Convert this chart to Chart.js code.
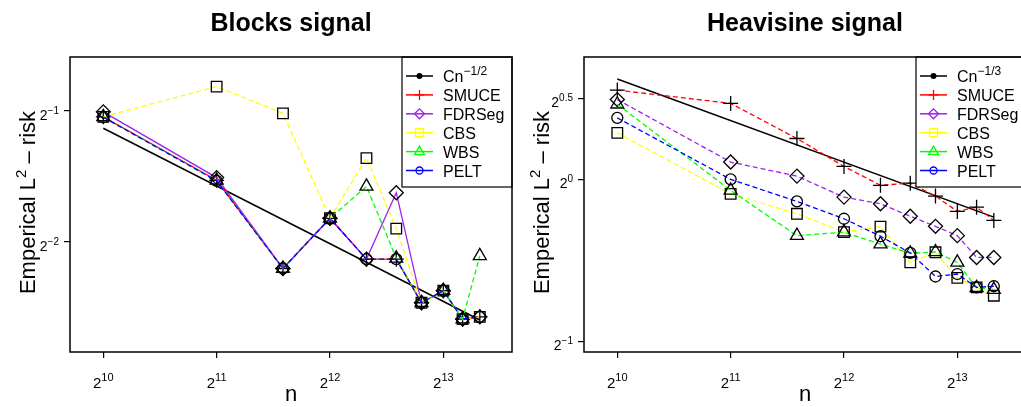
<!DOCTYPE html>
<html>
<head>
<meta charset="utf-8">
<script src="https://cdn.jsdelivr.net/npm/chart.js@4.4.0/dist/chart.umd.min.js"></script>
<style>
  html, body { margin: 0; padding: 0; background: #fff; overflow: hidden; }
  body { width: 1021px; height: 407px; position: relative; }
  canvas { position: absolute; top: 0; }
  #blocks { left: 0; }
  #heavisine { left: 514px; }
</style>
</head>
<body>
<canvas id="blocks" width="520" height="407"></canvas>
<canvas id="heavisine" width="520" height="407"></canvas>
<script>
// sample sizes n
const nValues = [1024, 2048, 3072, 4096, 5120, 6144, 7168, 8192, 9216, 10240];
const xTickExps = ["10", "11", "12", "13"];

// Blocks signal, empirical L2 risk
const blocksSmuce  = [0.484, 0.346, 0.217, 0.283, 0.228, 0.228, 0.181, 0.193, 0.166, 0.168];
const blocksFdrseg = [0.497, 0.351, 0.217, 0.283, 0.228, 0.324, 0.181, 0.193, 0.166, 0.168];
const blocksCbs    = [0.484, 0.568, 0.493, 0.283, 0.389, 0.268, 0.181, 0.193, 0.166, 0.168];
const blocksWbs    = [0.484, 0.346, 0.217, 0.283, 0.335, 0.229, 0.181, 0.193, 0.166, 0.232];
const blocksPelt   = [0.483, 0.345, 0.217, 0.283, 0.228, 0.228, 0.181, 0.193, 0.166, 0.168];
const blocksRefN   = [1024, 10240];
const blocksRef    = [0.4557, 0.1652];
const blocksYTickExps = ["-1", "-2"];

// Heavisine signal, empirical L2 risk
const heaviSmuce  = [1.465, 1.384, 1.191, 1.057, 0.975, 0.984, 0.931, 0.872, 0.888, 0.839];
const heaviFdrseg = [1.407, 1.077, 1.014, 0.927, 0.901, 0.854, 0.818, 0.786, 0.716, 0.716];
const heaviCbs    = [1.220, 0.940, 0.863, 0.798, 0.817, 0.701, 0.732, 0.656, 0.630, 0.608];
const heaviWbs    = [1.379, 0.954, 0.786, 0.798, 0.758, 0.729, 0.733, 0.701, 0.629, 0.624];
const heaviPelt   = [1.301, 1.000, 0.910, 0.845, 0.784, 0.730, 0.660, 0.667, 0.630, 0.633];
const heaviRefN   = [1024, 10240];
const heaviRef    = [1.536, 0.851];
const heaviYTickExps = ["0.5", "0", "-1"];

const methodNames  = ["SMUCE", "FDRSeg", "CBS", "WBS", "PELT"];
const methodColors = ["#ff0000", "#a020f0", "#ffff00", "#00ff00", "#0000ff"];
const methodShapes = ["cross", "rectRot", "rect", "triangle", "circle"];
const methodRadius = [7.5, 7, 7.5, 7.5, 5.5];

const FONT = '"Liberation Sans", Arial, Helvetica, sans-serif';
const font = (s, bold) => (bold ? "bold " : "") + s + "px " + FONT;
const minus = s => s.replace("-", "\u2212");

// draw text made of pieces [text, size, rise]
function richText(ctx, parts, x, y, align) {
  let w = 0;
  for (const p of parts) { ctx.font = font(p[1]); w += ctx.measureText(p[0]).width; }
  let cx = align === "center" ? x - w / 2 : align === "right" ? x - w : x;
  ctx.textAlign = "left";
  ctx.textBaseline = "alphabetic";
  for (const p of parts) {
    ctx.font = font(p[1]);
    ctx.fillText(p[0], cx, y - (p[2] || 0));
    cx += ctx.measureText(p[0]).width;
  }
}

// small legend glyphs
function legendGlyph(ctx, shape, x, y, color) {
  ctx.save();
  ctx.strokeStyle = color;
  ctx.fillStyle = color;
  ctx.lineWidth = 1.3;
  ctx.beginPath();
  if (shape === "dot") { ctx.arc(x, y, 3, 0, Math.PI * 2); ctx.fill(); }
  else if (shape === "cross") { ctx.moveTo(x - 5, y); ctx.lineTo(x + 5, y); ctx.moveTo(x, y - 5); ctx.lineTo(x, y + 5); ctx.stroke(); }
  else if (shape === "rectRot") { ctx.moveTo(x - 5, y); ctx.lineTo(x, y - 5); ctx.lineTo(x + 5, y); ctx.lineTo(x, y + 5); ctx.closePath(); ctx.stroke(); }
  else if (shape === "rect") { ctx.rect(x - 4, y - 4, 8, 8); ctx.stroke(); }
  else if (shape === "triangle") { ctx.moveTo(x, y - 5.5); ctx.lineTo(x + 5, y + 3); ctx.lineTo(x - 5, y + 3); ctx.closePath(); ctx.stroke(); }
  else if (shape === "circle") { ctx.arc(x, y, 3.5, 0, Math.PI * 2); ctx.stroke(); }
  ctx.restore();
}

function makePanel(id, p) {
  const datasets = [{
    label: "Cn",
    data: p.refN.map((n, i) => ({ x: n, y: p.ref[i] })),
    borderColor: "#000",
    borderWidth: 1.5,
    pointRadius: 0,
    order: 6
  }];
  p.series.forEach((vals, k) => {
    datasets.push({
      label: methodNames[k],
      data: nValues.map((n, i) => ({ x: n, y: vals[i] })),
      borderColor: methodColors[k],
      borderWidth: 1.3,
      borderDash: p.dashes[k],
      pointStyle: methodShapes[k],
      pointRadius: methodRadius[k],
      pointBorderColor: "#000",
      pointBorderWidth: 1.3,
      pointBackgroundColor: "rgba(0,0,0,0)",
      order: 5 - k
    });
  });

  const decor = {
    id: "decor",
    afterDatasetsDraw(chart) {
      const ctx = chart.ctx;
      const a = chart.chartArea;
      const xs = chart.scales.x, ys = chart.scales.y;
      ctx.save();

      // legend in the top right corner
      const lx = a.right - 110, ly = a.top, lw = 110, lh = 130;
      ctx.fillStyle = "#fff";
      ctx.fillRect(lx, ly, lw, lh);
      ctx.strokeStyle = "#000";
      ctx.lineWidth = 1.2;
      ctx.strokeRect(lx, ly, lw, lh);
      const rows = [{ parts: [["Cn", 16], [p.refExp, 12, 7]], color: "#000", shape: "dot" }];
      methodNames.forEach((m, k) => rows.push({ parts: [[m, 16]], color: methodColors[k], shape: methodShapes[k] }));
      rows.forEach((r, i) => {
        const ry = ly + 19 + i * 18.9;
        ctx.strokeStyle = r.color;
        ctx.lineWidth = 1.5;
        ctx.beginPath();
        ctx.moveTo(lx + 4, ry);
        ctx.lineTo(lx + 31, ry);
        ctx.stroke();
        legendGlyph(ctx, r.shape, lx + 17.5, ry, r.color);
        ctx.fillStyle = "#000";
        richText(ctx, r.parts, lx + 41, ry + 6, "left");
      });

      // plot frame
      ctx.strokeStyle = "#000";
      ctx.lineWidth = 1.5;
      ctx.strokeRect(a.left, a.top, a.right - a.left, a.bottom - a.top);

      // tick labels
      ctx.fillStyle = "#000";
      xTickExps.forEach(e => {
        const px = xs.getPixelForValue(Math.pow(2, +e));
        richText(ctx, [["2", 15], [e, 11, 7]], px, a.bottom + 36, "center");
      });
      p.yTickExps.forEach(e => {
        const py = ys.getPixelForValue(Math.pow(2, +e));
        richText(ctx, [["2", 14], [minus(e), 10, 6]], a.left - 11, py + 9, "right");
      });

      // axis titles
      richText(ctx, [["n", 22]], (a.left + a.right) / 2, a.bottom + 49, "center");
      ctx.save();
      ctx.translate(35, (a.top + a.bottom) / 2 - 2);
      ctx.rotate(-Math.PI / 2);
      richText(ctx, [["Emperical L", 22], ["2", 15, 9], [" \u2013 risk", 22]], 0, 0, "center");
      ctx.restore();

      // panel title
      ctx.font = font(25, true);
      ctx.textAlign = "center";
      ctx.textBaseline = "alphabetic";
      ctx.fillText(p.title, (a.left + a.right) / 2, 31);
      ctx.restore();
    }
  };

  return new Chart(document.getElementById(id), {
    type: "line",
    data: { datasets },
    plugins: [decor],
    options: {
      responsive: false,
      animation: false,
      events: [],
      layout: { padding: { top: 57, left: 0, right: 8, bottom: 0 }, autoPadding: false },
      plugins: { legend: { display: false }, tooltip: { enabled: false }, title: { display: false } },
      scales: {
        x: {
          type: "logarithmic",
          min: 835.3,
          max: 12468,
          afterBuildTicks: s => { s.ticks = xTickExps.map(e => ({ value: Math.pow(2, +e) })); },
          afterFit: s => { s.height = 55; },
          ticks: { display: false },
          grid: { drawOnChartArea: false, drawTicks: true, tickLength: 6, color: "#000", lineWidth: 1.2 },
          border: { display: false }
        },
        y: {
          type: "logarithmic",
          min: p.yMin,
          max: p.yMax,
          afterBuildTicks: s => { s.ticks = p.yTickExps.map(e => ({ value: Math.pow(2, +e) })); },
          afterFit: s => { s.width = 70; },
          ticks: { display: false },
          grid: { drawOnChartArea: false, drawTicks: true, tickLength: 6, color: "#000", lineWidth: 1.2 },
          border: { display: false }
        }
      }
    }
  });
}

makePanel("blocks", {
  title: "Blocks signal",
  refN: blocksRefN, ref: blocksRef, refExp: "\u22121/2",
  series: [blocksSmuce, blocksFdrseg, blocksCbs, blocksWbs, blocksPelt],
  dashes: [[], [], [5, 3], [5, 3], [5, 3]],
  yMin: 0.1395, yMax: 0.6643,
  yTickExps: blocksYTickExps
});

makePanel("heavisine", {
  title: "Heavisine signal",
  refN: heaviRefN, ref: heaviRef, refExp: "\u22121/3",
  series: [heaviSmuce, heaviFdrseg, heaviCbs, heaviWbs, heaviPelt],
  dashes: [[5, 3], [5, 3], [5, 3], [5, 3], [5, 3]],
  yMin: 0.4778, yMax: 1.688,
  yTickExps: heaviYTickExps
});
</script>
</body>
</html>
